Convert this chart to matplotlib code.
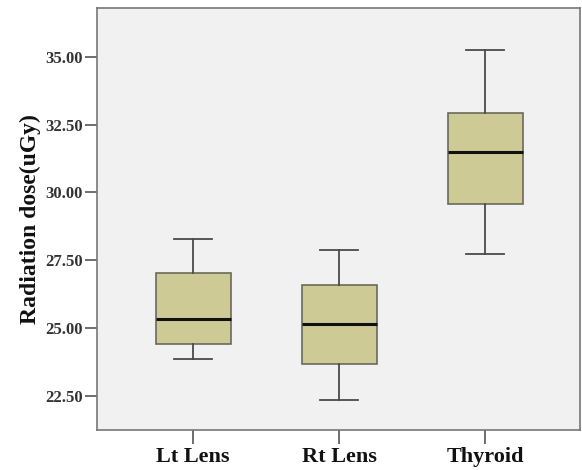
import matplotlib.pyplot as plt

# values
categories = ["Lt Lens", "Rt Lens", "Thyroid"]
whisker_low = [23.87, 22.34, 27.73]
q1 = [24.42, 23.70, 29.57]
median = [25.35, 25.17, 31.50]
q3 = [27.02, 26.58, 32.91]
whisker_high = [28.27, 27.87, 35.24]
yticks = [22.5, 25.0, 27.5, 30.0, 32.5, 35.0]

plt.rcParams['font.family'] = ['Liberation Serif', 'DejaVu Serif']
plt.rcParams['font.weight'] = 'bold'
plt.rcParams['axes.labelweight'] = 'bold'

fig = plt.figure(figsize=(5.82, 4.70), dpi=100)
ax = fig.add_axes([0.1667, 0.085, 0.83, 0.898])
ax.set_facecolor('#f0f1f0')

stats = []
for i, name in enumerate(categories):
    stats.append({
        'label': name,
        'whislo': whisker_low[i],
        'q1': q1[i],
        'med': median[i],
        'q3': q3[i],
        'whishi': whisker_high[i],
        'fliers': [],
    })

edge = '#4a4a4a'
ax.bxp(stats, positions=[1, 2, 3], widths=0.514, capwidths=0.26,
       showfliers=False, patch_artist=True,
       boxprops=dict(facecolor='#cdca96', edgecolor='#6a6a5a', linewidth=1.2),
       medianprops=dict(color='#111111', linewidth=2.2),
       whiskerprops=dict(color=edge, linewidth=1.3),
       capprops=dict(color=edge, linewidth=1.3))

ax.set_xlim(0.342, 3.65)
ax.set_ylim(21.25, 36.79)
ax.set_yticks(yticks)
ax.set_yticklabels(["%.2f" % v for v in yticks], fontsize=12, color='#333333')
ax.set_xticks([1, 2, 3])
ax.set_xticklabels(categories, fontsize=16, color='#111111')
ax.tick_params(axis='y', length=9, width=1.2, color='#555555', pad=1)
ax.tick_params(axis='x', length=10, width=1.2, color='#555555', pad=2)
for s in ax.spines.values():
    s.set_color('#777777')
    s.set_linewidth(1.2)

ax.set_ylabel("Radiation dose(uGy)", fontsize=17, color='#111111', labelpad=3)

fig.savefig("out.png", dpi=100)
